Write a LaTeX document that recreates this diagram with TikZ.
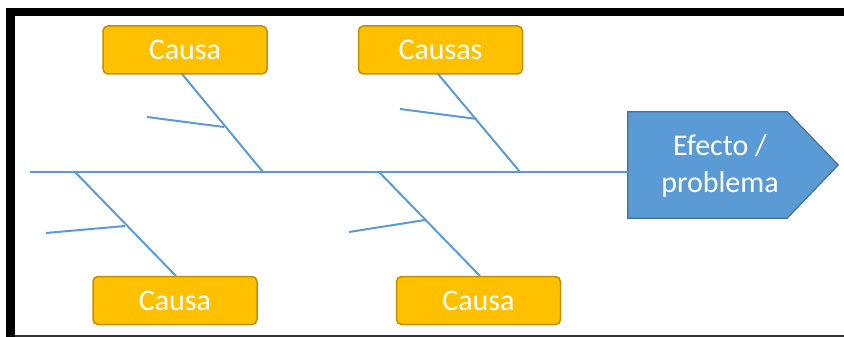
\documentclass[tikz,border=0pt]{standalone}
\usepackage{fontspec}
\setmainfont{Carlito}
\usetikzlibrary{calc}
\definecolor{causefill}{HTML}{FFC000}
\definecolor{causeborder}{HTML}{BF9000}
\definecolor{bone}{HTML}{5B9BD5}
\definecolor{efffill}{HTML}{5B9BD5}
\definecolor{effborder}{HTML}{41719C}
\begin{document}
\begin{tikzpicture}[x=1pt,y=-1pt,
  causebox/.style={draw=causeborder, fill=causefill, line width=1.5pt, rounded corners=5pt,
    minimum width=164pt, minimum height=48pt, inner sep=0pt, text=white,
    font=\fontsize{30}{36}\selectfont},
  bone/.style={draw=bone, line width=2pt},
  frameband/.style={fill=black, draw=none}]
\useasboundingbox (0,0) rectangle (844,337);
% frame
\fill[black] (6,8) rectangle (844,16);
\fill[black] (6,8) rectangle (15,337);
\draw[draw=black!80, line width=2pt] (15,336) -- (844,336);
% cause boxes
\node[causebox] (c1) at (185,50) {Causa};
\node[causebox] (c2) at (440.5,50) {Causas};
\node[causebox] (c3) at (175,300.5) {Causa};
\node[causebox] (c4) at (478.5,300.5) {Causa};
% effect
\node[minimum width=159pt, minimum height=106pt, inner sep=0pt] (eff) at (707.5,165) {};
\draw[draw=effborder, fill=efffill, line width=1.2pt]
  (eff.north west) -- (eff.north east) -- ($(eff.east)+(51,0)$) -- (eff.south east) -- (eff.south west) -- cycle;
\node[text=white, align=center, font=\fontsize{30}{37}\selectfont] (efftext) at (720,166) {Efecto /\\problema};
% spine
\coordinate (tail) at (30,172);
\coordinate (head) at (628,172);
\draw[bone] (tail) -- (head);
% joints on spine
\coordinate (j1) at (263,172);
\coordinate (j2) at (520,172);
\coordinate (j3) at (75,172);
\coordinate (j4) at (379,172);
% branch ends at boxes
\coordinate (b1) at (182,74);
\coordinate (b2) at (438,74);
\coordinate (b3) at (176,276);
\coordinate (b4) at (480,276);
\draw[bone] (b1) -- (j1);
\draw[bone] (b2) -- (j2);
\draw[bone] (j3) -- (b3);
\draw[bone] (j4) -- (b4);
% sub-bones
\coordinate (s1a) at (147,117); \coordinate (s1b) at (224,127);
\coordinate (s2a) at (400,109); \coordinate (s2b) at (477,119);
\coordinate (s3a) at (46,233);  \coordinate (s3b) at (125,226);
\coordinate (s4a) at (349,232); \coordinate (s4b) at (425,220);
\draw[bone] (s1a) -- (s1b);
\draw[bone] (s2a) -- (s2b);
\draw[bone] (s3a) -- (s3b);
\draw[bone] (s4a) -- (s4b);
\end{tikzpicture}
\end{document}
